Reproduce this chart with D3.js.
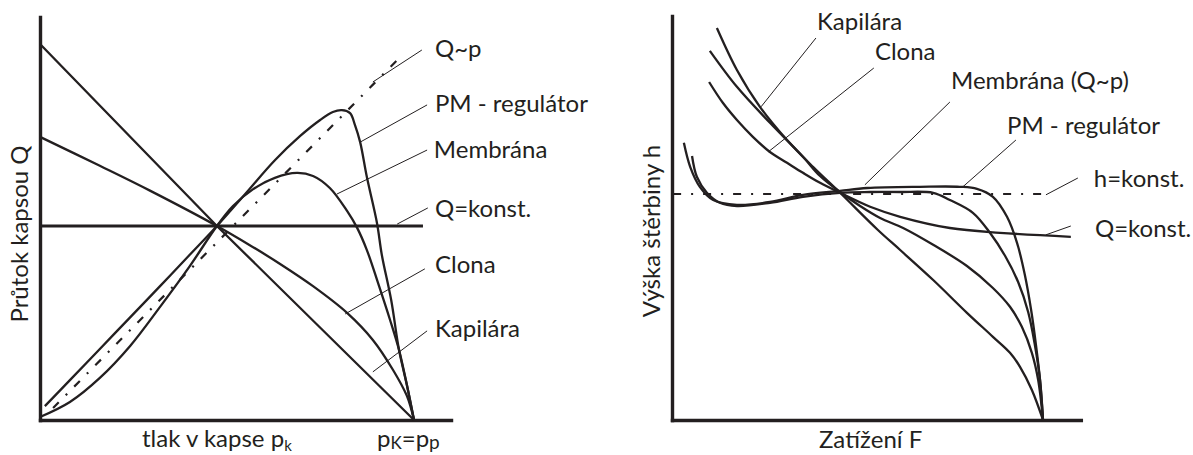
<!DOCTYPE html>
<html>
<head>
<meta charset="utf-8">
<script src="https://cdn.jsdelivr.net/npm/d3@7"></script>
<style>
  body { margin: 0; background: #fff; }
  svg text { font-family: Lato, "Open Sans", sans-serif; font-size: 24px; fill: #231f20; }
</style>
</head>
<body>
<svg id="chart" width="1193" height="455"></svg>
<script>
// ---- left chart : Q against pocket pressure (0 .. pk=pp = 100) ----
const kapilaraL = [[0,100],[47.3,51.6],[100,0]];
const clonaL = [[0,75.3],[16.0,67.6],[29.4,61.0],[47.3,51.6],[56.1,46.5],[64.2,41.5],[73.0,35.6],
                [82.1,28.5],[89.0,21.3],[94.4,13.3],[98.1,6.4],[100,0]];
const membranaL = [[0,0.8],[8.0,4.8],[16.0,11.2],[24.1,19.7],[32.1,30.1],[40.1,41.0],[47.3,51.6],
                   [51.6,56.9],[57.0,61.4],[62.8,64.4],[68.7,65.7],[73.0,64.9],[77.5,61.7],[82.1,55.6],
                   [84.8,51.1],[87.4,45.2],[90.4,36.4],[93.6,26.6],[96.0,18.6],[98.1,9.3],[100,0]];
const pmL = [[1.3,3.7],[8.0,10.6],[16.0,18.9],[24.1,27.3],[32.1,35.6],[40.1,44.0],[47.3,51.6],
             [55.1,60.4],[62.8,69.1],[69.5,75.5],[74.9,79.8],[78.3,81.9],[80.7,82.4],[82.9,81.6],
             [84.2,78.5],[85.6,73.9],[87.4,64.6],[90.1,52.4],[91.4,43.9],[93.9,31.9],[96.0,18.6],[98.1,9.3],[100,0]];
const qkonstL = [[0,51.6],[102.4,51.6]];
const qpL = [[3.5,3.2],[95.5,95.7]];

// ---- right chart : gap height against load (0 .. 100 = full load) ----
const kapilaraR = [[12.1,98],[17.5,87.5],[23.7,78.3],[31.0,70],[38.0,63.3],[45.3,56.8],[55.5,47.5],
                   [61.5,42.5],[70.4,35],[79.5,26.8],[86.5,20.8],[91.1,16.8],[93.8,13.3],[97.0,7.5],[100,0]];
const clonaR = [[10.2,92.3],[17.5,83.3],[26.4,74.3],[35.3,65.8],[39.9,61],[45.3,57],[50.7,53.5],
                [56.1,50.5],[62.3,48],[70.4,43.8],[79.5,38.5],[86.5,33],[91.1,28.3],[94.3,23.3],
                [97.0,16.8],[98.7,10],[100,0]];
const qkonstR = [[10.0,84.5],[13.7,79.3],[17.5,75],[21.8,70.8],[26.4,67],[31.0,64.3],[35.3,61.8],
                 [39.9,59.3],[45.3,56.8],[53.4,53.3],[61.5,50.8],[74.9,48],[88.4,46.8],[107.5,45.8]];
const pmR = [[3.2,69.3],[4.9,63.3],[7.5,58.3],[11.1,55],[17.5,53.8],[26.4,54.5],[35.3,56.3],[45.3,57.3],
             [52.6,58],[66.8,58.3],[77.6,58.3],[82.2,57.8],[86.5,55.8],[90.3,50.8],[93.0,44.3],
             [95.1,36.3],[96.8,27.5],[98.1,18.8],[99.2,10],[100,0]];
const membranaR = [[5.4,66],[6.7,60.8],[9.4,56.8],[12.9,54.3],[17.5,53.5],[26.4,54.3],[35.3,55.8],
                   [45.3,56.8],[53.4,57],[61.5,57],[70.4,56.8],[74.9,55],[81.1,51.8],[85.7,46.8],
                   [89.8,41],[93.3,34.5],[96.0,27],[97.8,18.8],[99.2,10],[100,0]];
const hkonstR = [[0.3,56.5],[100.8,56.5]];

// labels with leader lines (data units of each chart)
const leftNotes = [
  {text: "Q~p",            from: [89.0,89.9], to: [102.1,98.4], at: [105.6,96.5]},
  {text: "PM - regulátor", from: [85.6,73.9], to: [103.5,83.8], at: [105.6,81.9]},
  {text: "Membrána",       from: [79.4,60.1], to: [103.5,71.8], at: [105.3,69.7]},
  {text: "Q=konst.",       from: [95.5,52.1], to: [103.7,56.4], at: [105.6,54.0]},
  {text: "Clona",          from: [81.6,28.2], to: [102.9,40.2], at: [105.6,39.1]},
  {text: "Kapilára",       from: [89.0,12.8], to: [103.5,23.7], at: [105.6,22.1]}
];
const rightNotes = [
  {text: "Kapilára",         from: [24.0,78.3], to: [38.8,95.5],  at: [39.1,97.5]},
  {text: "Clona",            from: [25.9,67],   to: [54.4,88],    at: [54.7,90]},
  {text: "Membrána (Q~p)",   from: [52.0,58.8], to: [74.9,79.5],  at: [75.2,82.7]},
  {text: "PM - regulátor",   from: [78.4,58.3], to: [92.7,70],    at: [90.3,71.5]},
  {text: "h=konst.",         from: [100.8,56.3],to: [109.4,60.5], at: [113.7,58.3]},
  {text: "Q=konst.",         from: [100.8,46.3],to: [107.5,48.5], at: [114,45.8]}
];

const ink = "#231f20";
const svg = d3.select("#chart");

const xL = d3.scaleLinear().domain([0,100]).range([40,414]);
const yL = d3.scaleLinear().domain([0,100]).range([420,44]);
const xR = d3.scaleLinear().domain([0,100]).range([672,1043]);
const yR = d3.scaleLinear().domain([0,100]).range([420,20]);

function drawAxes(x, y, xMax, yMax) {
  const g = svg.append("g");
  const xs = x.copy().domain([0, xMax]).range([x(0), x(xMax)]);
  const ys = y.copy().domain([0, yMax]).range([y(0), y(yMax)]);
  g.append("g").attr("transform", `translate(0,${y(0)})`)
    .call(d3.axisBottom(xs).tickValues([]).tickSizeOuter(0));
  g.append("g").attr("transform", `translate(${x(0)},0)`)
    .call(d3.axisLeft(ys).tickValues([]).tickSizeOuter(0));
  g.selectAll(".domain").attr("stroke", ink).attr("stroke-width", 3.4)
    .attr("stroke-linecap", "square");
}

function curve(x, y, data, width, dash, shape) {
  const line = d3.line().x(d => x(d[0])).y(d => y(d[1]))
    .curve(shape || d3.curveCatmullRom.alpha(0.5));
  svg.append("path").datum(data)
    .attr("d", line)
    .attr("fill", "none")
    .attr("stroke", ink)
    .attr("stroke-width", width)
    .attr("stroke-dasharray", dash || null);
}

function notes(x, y, list) {
  list.forEach(n => {
    svg.append("line")
      .attr("x1", x(n.from[0])).attr("y1", y(n.from[1]))
      .attr("x2", x(n.to[0])).attr("y2", y(n.to[1]))
      .attr("stroke", ink).attr("stroke-width", 1);
    svg.append("text").attr("x", x(n.at[0])).attr("y", y(n.at[1])).text(n.text);
  });
}

const dashDot = "8,10,2,10";

// left
drawAxes(xL, yL, 109.9, 107.2);
curve(xL, yL, qkonstL, 3.2);
curve(xL, yL, kapilaraL, 2.3, null, d3.curveLinear);
curve(xL, yL, clonaL, 2.3);
curve(xL, yL, membranaL, 2.3);
curve(xL, yL, pmL, 2.3);
curve(xL, yL, qpL, 2.2, dashDot);
notes(xL, yL, leftNotes);

// right
drawAxes(xR, yR, 110.2, 101);
curve(xR, yR, hkonstR, 2.2, dashDot);
curve(xR, yR, kapilaraR, 2.3);
curve(xR, yR, clonaR, 2.3);
curve(xR, yR, qkonstR, 2.3);
curve(xR, yR, pmR, 2.3);
curve(xR, yR, membranaR, 2.3);
notes(xR, yR, rightNotes);

// axis titles
const t1 = svg.append("text").attr("x", 142).attr("y", 447);
t1.append("tspan").text("tlak v kapse p");
t1.append("tspan").attr("dy", 4).style("font-size", "15px").text("k");

const t2 = svg.append("text").attr("x", 377).attr("y", 447);
t2.append("tspan").text("p");
t2.append("tspan").attr("dy", 2).style("font-size", "17px").text("K");
t2.append("tspan").attr("dy", -2).text("=p");
t2.append("tspan").attr("dy", 2).style("font-size", "19px").text("p");

svg.append("text").attr("transform", "translate(28,234) rotate(-90)")
  .attr("text-anchor", "middle").text("Průtok kapsou Q");

svg.append("text").attr("x", 819).attr("y", 448).text("Zatížení F");
svg.append("text").attr("transform", "translate(660,231) rotate(-90)")
  .attr("text-anchor", "middle").text("Výška štěrbiny h");
</script>
</body>
</html>
